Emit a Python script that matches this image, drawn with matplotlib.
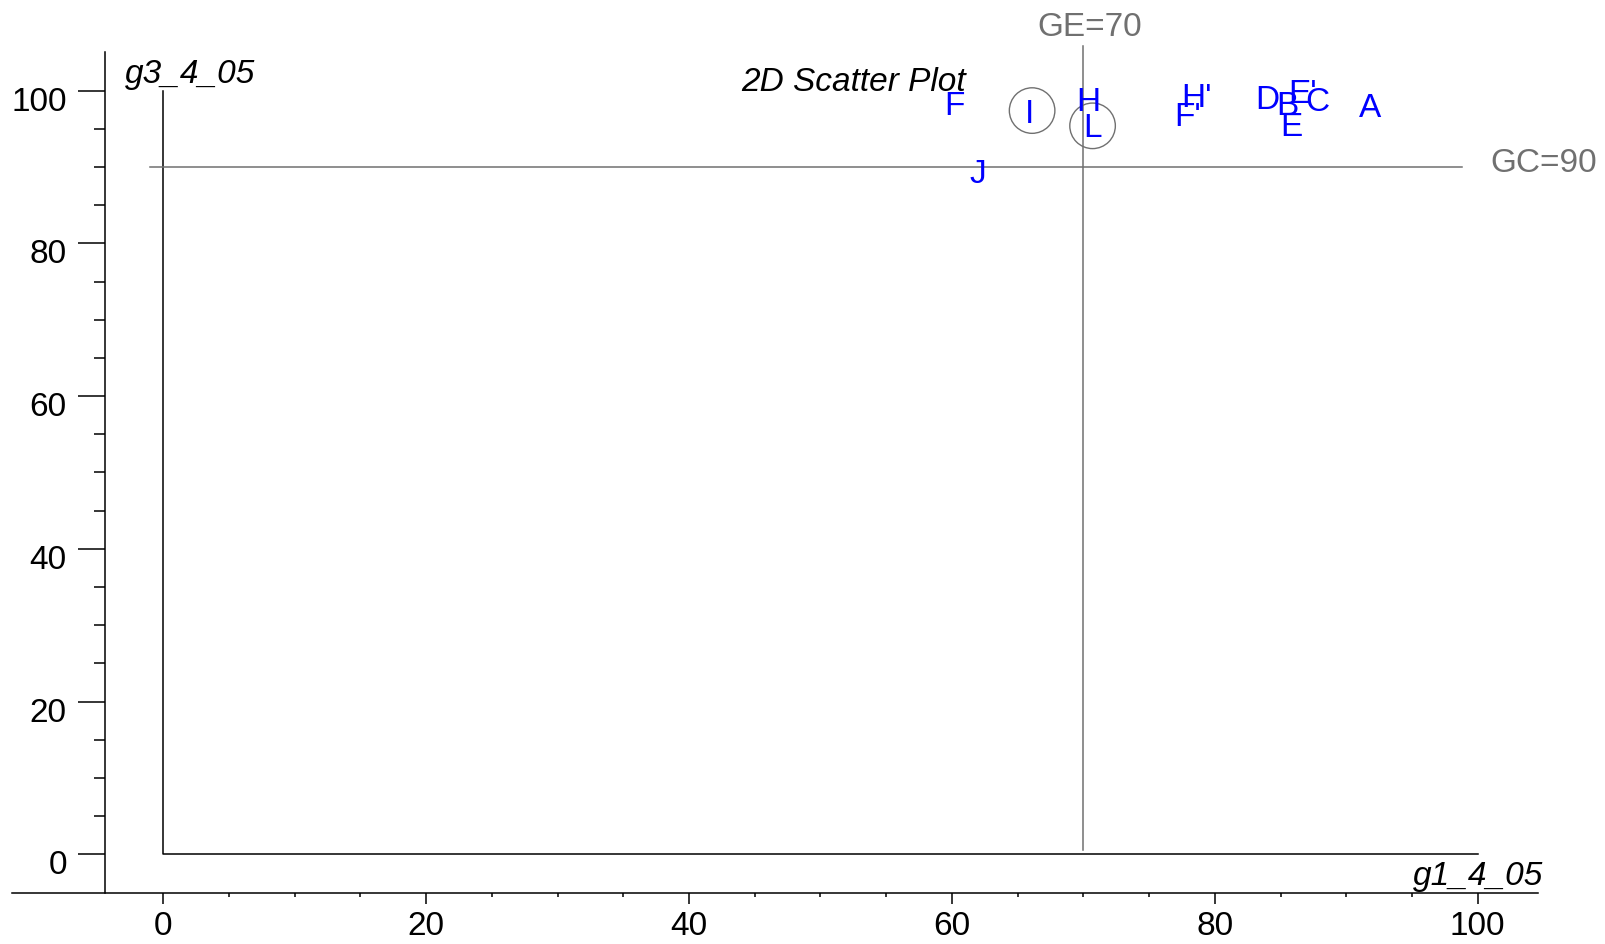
import numpy as np
import matplotlib
matplotlib.use('Agg')
import matplotlib.pyplot as plt
from matplotlib.transforms import ScaledTranslation

plt.rcParams['font.family'] = ['Liberation Sans', 'DejaVu Sans']

# point labels and their positions
labels = ['F', 'I', 'H', 'L', 'J', "H'", "F'", 'D', 'B', "E'", 'C', 'E', 'A']
g1 = [60.2, 65.9, 70.35, 70.7, 62.0, 78.6, 77.9, 84.0, 85.5, 86.7, 87.8, 85.8, 91.8]
g3 = [98.3, 97.3, 98.8, 95.5, 89.4, 99.4, 96.9, 99.1, 98.3, 99.9, 98.8, 95.6, 98.1]

# circled points
circ_x = [66.1, 70.7]
circ_y = [97.4, 95.4]

# reference lines
ge = 70
gc = 90

fs = 24
gray = '#707070'
blue = '#0000ff'

fig = plt.figure(figsize=(16.06, 9.44), dpi=100)
ax = fig.add_axes([0, 0, 1, 1])
ax.set_xlim(-12.42, 109.76)
ax.set_ylim(-11.75, 111.88)
ax.patch.set_alpha(0)

# maple style axes crossing outside the box
for s in ['top', 'right']:
    ax.spines[s].set_visible(False)
ax.spines['left'].set_position(('data', -4.44))
ax.spines['bottom'].set_position(('data', -5.07))
ax.spines['left'].set_bounds(-5.07, 105.07)
ax.spines['bottom'].set_bounds(-11.5, 104.6)
for s in ['left', 'bottom']:
    ax.spines[s].set_linewidth(1.1)

ax.set_xticks(np.arange(0, 101, 20))
ax.set_yticks(np.arange(0, 101, 20))
ax.set_xticks(np.arange(0, 101, 5), minor=True)
ax.set_yticks(np.arange(0, 101, 5), minor=True)
ax.tick_params(axis='y', which='major', length=19.4, width=1.1, pad=8, labelsize=fs)
ax.tick_params(axis='y', which='minor', length=7.9, width=1.1)
ax.tick_params(axis='x', which='major', length=7.7, width=1.1, pad=5, labelsize=fs)
ax.tick_params(axis='x', which='minor', length=2.9, width=1.1)
# y labels sit a bit below their ticks
for lab in ax.get_yticklabels():
    lab.set_transform(lab.get_transform() + ScaledTranslation(0, -8 / 100, fig.dpi_scale_trans))

# small downward nudge so glyphs (not bboxes) are centred on the points
nudge = ax.transData + ScaledTranslation(0, -3 / 100, fig.dpi_scale_trans)

# inner box lines
ax.plot([0, 0, 100], [100, 0, 0], color='black', lw=1.1)

# GE / GC lines
ax.plot([ge, ge], [0.6, 105.8], color=gray, lw=1.1)
ax.plot([-1, 98.8], [gc, gc], color=gray, lw=1.1)
ax.text(70.5, 108.7, 'GE=' + str(ge), color=gray, fontsize=fs, ha='center', va='center', transform=nudge)
ax.text(101, 90.5, 'GC=' + str(gc), color=gray, fontsize=fs, ha='left', va='center')

# points
for lab, x, y in zip(labels, g1, g3):
    ax.text(x, y, lab, color=blue, fontsize=fs, ha='center', va='center', transform=nudge)
ax.scatter(circ_x, circ_y, s=1075, facecolors='none', edgecolors=gray, linewidths=1.0)

ax.text(52.5, 101.5, '2D Scatter Plot', fontsize=fs, style='italic', ha='center', va='center', transform=nudge)
ax.text(-2.9, 101.0, 'g3_4_05', fontsize=fs, style='italic', ha='left', va='baseline')
ax.text(105.0, -4.0, 'g1_4_05', fontsize=fs, style='italic', ha='right', va='baseline')

fig.savefig('out.png', dpi=100)
